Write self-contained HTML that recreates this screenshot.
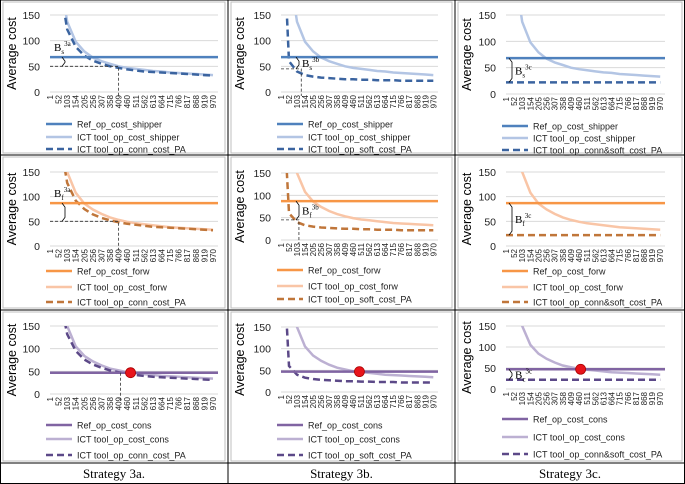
<!DOCTYPE html>
<html><head><meta charset="utf-8"><style>
body{margin:0;background:#fff;}
svg{display:block;font-family:"Liberation Sans",sans-serif;}
</style></head><body>
<svg id="c" width="685" height="484" viewBox="0 0 685 484"></svg>
<script>
const categories=[1,52,103,154,205,256,307,358,409,460,511,562,613,664,715,766,817,868,919,970];
const yTicks=[0,50,100,150];
const refShipper=68, refForw=87, refCons=47;
const ictShipper=[400,240,137,98,79,67,60,55,50,47,45,43,41,40,38,37,36,35,34,33];
const connShipper=[400,225,122,88,71,61,55,50,47,44,42,40,39,38,37,36,35,34,33,32];
const softPA=[400,60,40,33,30,28,27,26,25,25,24,24,23,23,23,22,22,22,22,22];
const connSoftPA=[22,22,22,22,22,22,22,22,22,22,22,22,22,22,22,22,22,22,22,22];
const ictForw=[400,250,150,108,86,74,65,58,53,49,46,44,42,40,38,37,36,35,34,33];
const connForw=[400,230,128,92,75,64,57,52,48,45,43,41,39,38,37,36,35,34,33,32];
const ictCons=[400,240,150,105,84,72,63,56,52,48,46,44,42,40,39,38,37,36,35,34];
const connCons=[400,225,132,95,76,65,58,52,48,45,42,40,38,37,36,35,34,33,32,31];

const svg=document.getElementById('c');
const NS='http://www.w3.org/2000/svg';
function mk(t,a,p){const e=document.createElementNS(NS,t);for(const k in a)e.setAttribute(k,a[k]);(p||svg).appendChild(e);return e;}

const colors=[
 {ref:'#4f81bd',ict:'#b3c5e4',dash:'#3b64a0'},
 {ref:'#f79646',ict:'#f9c5a6',dash:'#c0763a'},
 {ref:'#8064a2',ict:'#bcb0d2',dash:'#5c4988'}];
const rowNames=[['Ref_op_cost_shipper','ICT tool_op_cost_shipper'],['Ref_op_cost_forw','ICT tool_op_cost_forw'],['Ref_op_cost_cons','ICT tool_op_cost_cons']];
const refs=[refShipper,refForw,refCons];
const ictRows=[ictShipper,ictForw,ictCons];
const dashData=[[connShipper,softPA,connSoftPA],[connForw,softPA,connSoftPA],[connCons,softPA,connSoftPA]];
const dashNames=['ICT tool_op_conn_cost_PA','ICT tool_op_soft_cost_PA','ICT tool_op_conn&soft_cost_PA'];
const colX=[[0,228],[228,455],[455,685]];
const plotLR=[[50,218],[281,438],[506,665]];
const geo=[
 [[15,92],[15,92],[15,94]],
 [[172,246],[173,240],[172,246]],
 [[326,394],[327,392],[326,389]]];
const legY=[
 [[124,137,149],[124,137,149],[126,138,150]],
 [[271,287,302],[270,286,299],[271,287,302]],
 [[425,439,455],[425,439,455],[419,437,454]]];
const rowBox=[[2,153],[157,308],[312,461]];
const strat=['3a','3b','3c'];
const subs=['s','f','c'];
let clipId=0;

for(let r=0;r<3;r++)for(let c=0;c<3;c++){
 const g=mk('g',{});
 
 
 const [x0,x1]=colX[c];
 const box=mk('rect',{x:x0+3,y:rowBox[r][0],width:x1-x0-6,height:rowBox[r][1]-rowBox[r][0],fill:'#fff',stroke:'#bfbfbf','stroke-width':1},g);
 
 
 const [L,R]=plotLR[c];const [yT,yB]=geo[r][c];
 const xs=v=>L+(v-1)/999*(R-L);
 const ys=v=>yB-(v/150)*(yB-yT);
 const yt=mk('text',{x:0,y:0,'font-size':12.5,fill:'#000','text-anchor':'middle',transform:`translate(${x0+16},${(yT+yB)/2}) rotate(-90)`},g);
 yt.textContent='Average cost';
 
 
 yTicks.forEach(t=>{
  const gl=mk('line',{x1:L,x2:R,y1:ys(t),y2:ys(t),stroke:'#d9d9d9','stroke-width':1},g);
  
  
  const tl=mk('text',{x:L-10,y:ys(t)+4,'font-size':10.5,'text-anchor':'end',fill:'#222'},g);
  tl.textContent=t;
  
  
 });
 categories.forEach(v=>{
  const xl=mk('text',{x:0,y:0,'font-size':8,'text-anchor':'end',fill:'#222',transform:`translate(${xs(v)+3},${yB+3}) rotate(-90)`},g);
  xl.textContent=v;
  
  
 });
 const cid='cp'+(clipId++);
 const cp=mk('clipPath',{id:cid},g);mk('rect',{x:L,y:yT,width:R-L,height:yB-yT+2},cp);
 const col=colors[r];
 const path=arr=>arr.map((v,i)=>(i?'L':'M')+xs(categories[i]).toFixed(1)+','+ys(v).toFixed(1)).join(' ');
 const ict=mk('path',{d:path(ictRows[r]),fill:'none',stroke:col.ict,'stroke-width':2.5,'clip-path':`url(#${cid})`},g);
 
 
 const ds=mk('path',{d:path(dashData[r][c]),fill:'none',stroke:col.dash,'stroke-width':2.5,'stroke-dasharray':'7,4','clip-path':`url(#${cid})`},g);
 
 
 const rf=mk('line',{x1:L,x2:R,y1:ys(refs[r]),y2:ys(refs[r]),stroke:col.ref,'stroke-width':2.5},g);
 
 
 if(!(r==2&&c<2)){
  const low=c==2?22:(c==1?45:50);
  const ax=c==0?L+12:(c==1?L+15:L+3);
  const an=mk('path',{d:`M${ax},${ys(refs[r])} L${ax+3},${ys(refs[r])+4} L${ax+3},${ys(low)-4} L${ax},${ys(low)}`,fill:'none',stroke:'#000','stroke-width':0.8},g);
  
  
  const at=mk('text',{x:ax+(c==0?-8:6),y:(c==0?ys(refs[r])-6:(ys(refs[r])+ys(low))/2+4),'font-size':11,'font-family':'Liberation Serif,serif'},g);
  at.innerHTML=`B<tspan font-size="7" dy="3">${subs[r]}</tspan><tspan font-size="7" dy="-8">${strat[c]}</tspan>`;
  
  
 }
 if(r<2&&c<2){
  const cx=c==0?409:(r==0?130:115), cy=c==0?50:45;
  const dl=mk('path',{d:`M${L},${ys(cy)} L${xs(cx)},${ys(cy)} L${xs(cx)},${yB+4}`,fill:'none',stroke:'#333','stroke-width':0.8,'stroke-dasharray':'3,2'},g);
  
  
 }
 if(r==2){
  const px=[480,500,470][c];
  if(c==0){const dl=mk('line',{x1:xs(420),x2:xs(420),y1:ys(47),y2:yB+8,stroke:'#333','stroke-width':0.8,'stroke-dasharray':'3,2'},g);}
  const dot=mk('circle',{cx:xs(px),cy:ys(refCons),r:5,fill:'#e8141b',stroke:'#a00','stroke-width':0.8},g);
  
  
 }
 const items=[[rowNames[r][0],col.ref,''],[rowNames[r][1],col.ict,''],[dashNames[c],col.dash,'7,4']];
 items.forEach((it,i)=>{
  const y=legY[r][c][i];
  const ll=mk('line',{x1:L-4,x2:L+22,y1:y,y2:y,stroke:it[1],'stroke-width':2.5,'stroke-dasharray':it[2]},g);
  
  
  const lt=mk('text',{x:L+27,y:y+3.5,'font-size':9,fill:'#222'},g);
  lt.textContent=it[0];
  
  
 });
}
[[0,0,685,0],[0,463,685,463],[0,483.5,685,483.5],[0.5,0,0.5,484],[228,0,228,484],[455,0,455,484],[684.5,0,684.5,484],[0,155,685,155],[0,310,685,310]].forEach(a=>{
 const l=mk('line',{x1:a[0],y1:a[1],x2:a[2],y2:a[3],stroke:'#000','stroke-width':1});
 
 
});
['Strategy 3a.','Strategy 3b.','Strategy 3c.'].forEach((s,i)=>{
 const t=mk('text',{x:(colX[i][0]+colX[i][1])/2,y:478,'font-size':13,'text-anchor':'middle','font-family':'Liberation Serif,serif'});
 t.textContent=s;
 
 
});
</script>
</body></html>
